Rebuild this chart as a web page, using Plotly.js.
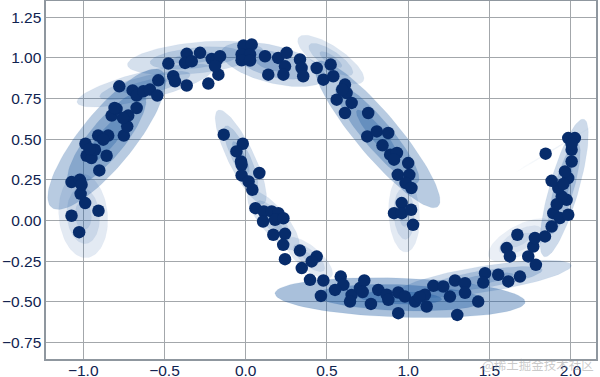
<!DOCTYPE html>
<html>
<head>
<meta charset="utf-8">
<script src="https://cdn.plot.ly/plotly-3.0.1.min.js"></script>
<style>html,body{margin:0;padding:0;background:#fff;}#chart{width:600px;height:377px;}</style>
</head>
<body>
<div id="chart"></div>
<script>
// ---- Data points (moons sample) ----
var pointsX = [
 -1.025,-1.072,-0.906,-0.988,-1.016,-1.072,-1.021,-1.010,-0.901,-0.856,-0.986,-0.979,-0.949,-0.928,-0.908,-0.846,-0.877,-0.960,
 -0.750,-0.729,-0.723,-0.671,-0.825,-0.795,-0.807,-0.755,-0.778,-0.696,-0.671,-0.630,-0.589,-0.544,-0.538,
 -0.476,-0.446,-0.435,-0.363,-0.363,-0.373,-0.332,-0.281,-0.230,-0.209,-0.179,-0.158,-0.168,-0.189,
 -0.014,0.037,-0.025,0.027,-0.025,0.027,0.119,0.139,0.200,0.252,0.242,0.232,0.334,0.344,0.354,0.437,
 0.523,0.478,0.539,0.611,0.621,0.560,0.652,0.611,0.754,0.594,
 0.748,0.807,0.877,0.842,0.889,0.931,0.913,1.000,0.936,1.007,0.984,1.020,0.960,0.913,0.961,1.018,1.030,
 -0.135,-0.018,-0.057,-0.029,-0.025,0.084,-0.025,0.018,0.041,0.060,0.112,0.160,0.201,0.107,0.181,0.232,
 0.170,0.242,0.231,0.334,0.242,0.437,0.406,0.345,0.396,0.478,
 0.463,0.585,0.601,0.550,0.652,0.642,0.703,0.730,0.771,0.816,0.868,0.878,0.939,0.980,0.939,1.042,1.103,1.114,
 1.155,1.216,1.257,1.288,1.350,1.350,1.302,1.431,1.473,1.462,1.554,1.616,1.688,0.720,1.070,
 1.606,1.626,1.672,1.739,1.786,1.770,1.780,1.842,1.883,1.893,1.934,1.985,1.975,1.945,1.924,1.883,1.985,1.965,
 2.006,2.006,1.985,2.026,2.006,1.846,1.915,1.955
];
var pointsY = [
 -0.072,0.029,0.060,0.107,0.164,0.236,0.250,0.220,0.308,0.398,0.472,0.398,0.384,0.435,0.522,0.522,0.497,0.440,
 0.522,0.579,0.645,0.692,0.645,0.686,0.692,0.630,0.825,0.800,0.768,0.795,0.805,0.768,0.862,
 0.965,0.887,0.856,0.830,1.025,0.969,0.979,1.031,0.842,0.994,0.986,1.010,0.897,0.950,
 1.076,1.082,1.021,1.021,0.985,0.984,1.010,0.897,1.000,1.031,0.948,0.897,0.990,0.938,0.887,0.938,
 0.959,0.866,0.887,0.836,0.784,0.743,0.723,0.661,0.661,0.805,
 0.517,0.548,0.538,0.462,0.405,0.415,0.374,0.353,0.281,0.281,0.230,0.200,0.107,0.045,0.045,0.066,-0.027,
 0.528,0.472,0.425,0.363,0.343,0.292,0.277,0.240,0.189,0.076,0.055,0.055,0.045,-0.006,0.004,0.014,
 -0.088,-0.082,-0.150,-0.185,-0.238,-0.222,-0.252,-0.293,-0.365,-0.369,
 -0.464,-0.345,-0.396,-0.427,-0.458,-0.499,-0.416,-0.369,-0.513,-0.427,-0.457,-0.488,-0.443,-0.468,-0.570,-0.499,-0.457,-0.529,
 -0.402,-0.406,-0.468,-0.369,-0.386,-0.445,-0.581,-0.499,-0.324,-0.382,-0.334,-0.375,-0.345,-0.440,-0.470,
 -0.170,-0.221,-0.088,-0.221,-0.273,-0.160,-0.108,-0.098,-0.037,0.045,0.015,0.035,0.127,0.148,0.200,0.244,0.261,0.302,
 0.363,0.435,0.507,0.507,0.470,0.411,0.100,0.225
];

// ---- Gaussian components (centre, 3-sigma semi-axes, angle in degrees, weight) ----
var compCx    = [-1.000,-0.855,-0.620,-0.310, 0.170, 0.524, 0.810, 0.975,-0.030, 0.170, 0.390, 0.950, 1.470, 1.690, 1.960, 1.900];
var compCy    = [ 0.030, 0.500, 0.830, 1.000, 0.960, 0.990, 0.530, 0.040, 0.390, 0.000,-0.230,-0.475,-0.360,-0.120, 0.200, 0.440];
var compA3    = [ 0.260, 0.540, 0.430, 0.420, 0.330, 0.240, 0.580, 0.235, 0.320, 0.230, 0.180, 0.770, 0.540, 0.220, 0.440, 0.280];
var compB3    = [ 0.150, 0.165, 0.085, 0.095, 0.115, 0.080, 0.130, 0.095, 0.080, 0.080, 0.070, 0.120, 0.080, 0.090, 0.090, 0.006];
var compAngle = [ 95,    51,    14,     6,   -14,   -34,   -50,    93,   -64,   -50,   -40,    -2,     9,    29,    74,    31  ];
var compW     = [ 0.040, 0.100, 0.060, 0.060, 0.070, 0.050, 0.100, 0.040, 0.060, 0.050, 0.040, 0.120, 0.070, 0.030, 0.070, 0.010];

var xTickVals = [-1.0,-0.5,0.0,0.5,1.0,1.5,2.0];
var xTickText = ['\u22121.0','\u22120.5','0.0','0.5','1.0','1.5','2.0'];
var yTickVals = [-0.75,-0.5,-0.25,0.0,0.25,0.5,0.75,1.0,1.25];
var yTickText = ['\u22120.75','\u22120.50','\u22120.25','0.00','0.25','0.50','0.75','1.00','1.25'];

// ---- Build traces ----
var traces = [];
var wMax = Math.max.apply(null, compW);
var alphaMax = 0.38;
for (var i = 0; i < compCx.length; i++) {
  var alpha = compW[i] * alphaMax / wMax;
  var th = compAngle[i] * Math.PI / 180;
  for (var ns = 1; ns <= 3; ns++) {
    var a = compA3[i] / 3 * ns, b = compB3[i] / 3 * ns;
    var ex = [], ey = [];
    for (var k = 0; k <= 90; k++) {
      var t = 2 * Math.PI * k / 90;
      ex.push(compCx[i] + a * Math.cos(t) * Math.cos(th) - b * Math.sin(t) * Math.sin(th));
      ey.push(compCy[i] + a * Math.cos(t) * Math.sin(th) + b * Math.sin(t) * Math.cos(th));
    }
    traces.push({
      x: ex, y: ey, type: 'scatter', mode: 'lines', fill: 'toself',
      fillcolor: 'rgba(30,90,160,' + alpha.toFixed(3) + ')',
      line: {width: 0.5, color: 'rgba(30,90,160,' + (alpha * 0.4).toFixed(3) + ')'},
      hoverinfo: 'skip', showlegend: false
    });
  }
}
traces.push({
  x: pointsX, y: pointsY, type: 'scatter', mode: 'markers',
  marker: {size: 12.5, color: '#072c6b', line: {width: 0}},
  showlegend: false
});

var tickFont = {family: 'Liberation Sans, Arial, sans-serif', size: 15.5, color: '#0f2350'};
var layout = {
  width: 600, height: 377,
  margin: {l: 46, r: 4, t: 1, b: 18, pad: 0},
  paper_bgcolor: '#ffffff', plot_bgcolor: '#ffffff',
  showlegend: false,
  xaxis: {
    range: [-1.229, 2.156], tickvals: xTickVals, ticktext: xTickText,
    showgrid: true, gridcolor: '#a3a7ab', gridwidth: 1.1, zeroline: false,
    showline: true, linecolor: '#8f979f', linewidth: 1.6, mirror: true,
    ticks: '', tickfont: tickFont, ticklabelstandoff: -3
  },
  yaxis: {
    range: [-0.852, 1.35], tickvals: yTickVals, ticktext: yTickText,
    showgrid: true, gridcolor: '#a3a7ab', gridwidth: 1.1, zeroline: false,
    showline: true, linecolor: '#8f979f', linewidth: 1.6, mirror: true,
    ticks: '', tickfont: tickFont
  },
  annotations: [{
    text: '@稀土掘金技术社区', xref: 'paper', yref: 'paper', x: 1.0, y: -0.015,
    xanchor: 'right', yanchor: 'middle', showarrow: false,
    font: {family: 'Noto Sans CJK SC, sans-serif', size: 12.5, color: 'rgba(150,150,150,0.5)'}
  }]
};
Plotly.newPlot('chart', traces, layout, {staticPlot: true, displayModeBar: false});
</script>
</body>
</html>
